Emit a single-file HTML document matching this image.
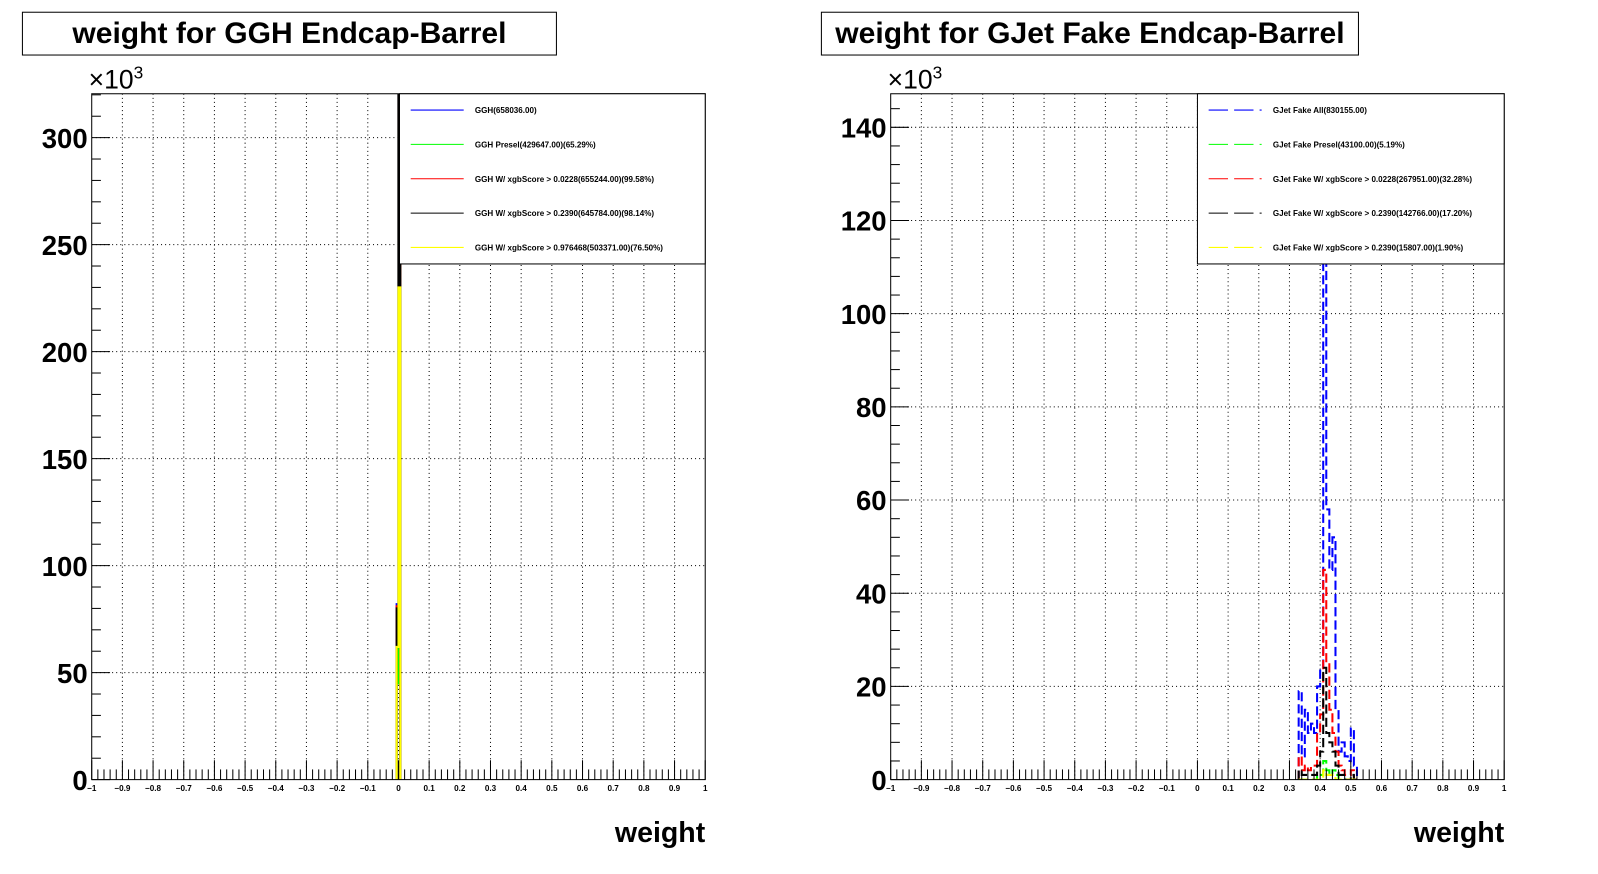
<!DOCTYPE html>
<html><head><meta charset="utf-8"><style>
html,body{margin:0;padding:0;background:#fff;overflow:hidden;}
svg{display:block;font-family:"Liberation Sans",Arial,sans-serif;}
</style></head><body>
<svg width="1598" height="874" xmlns="http://www.w3.org/2000/svg">
<rect x="0" y="0" width="1598" height="874" fill="#fff"/>
<g id="s" transform="scale(1.0191)"></g>
</svg>
<script>
// ---------- data ----------
const leftBinsX = [-0.006, 0.0];            // bin lower edges
const leftBlue  = [82, 575];
const leftGreen = [45, 420];
const leftRed   = [81, 570];
const leftBlack = [80, 560];
const leftYellow= [62, 230];
const leftLegend = ["GGH(658036.00)","GGH Presel(429647.00)(65.29%)","GGH W/ xgbScore > 0.0228(655244.00)(99.58%)","GGH W/ xgbScore > 0.2390(645784.00)(98.14%)","GGH W/ xgbScore > 0.976468(503371.00)(76.50%)"];

const rightBinsX = [0.33,0.34,0.35,0.36,0.37,0.38,0.39,0.40,0.41,0.42,0.43,0.44,0.45,0.46,0.47,0.48,0.49,0.50,0.51];
const rightBlue  = [19,5,15,10,12,10,20,24,160,58,45,52,15,6,8,5,4,11,3];
const rightRed   = [5,2,3,2,3,3,10,14,45,25,15,10,6,3,2,1,1,2,0];
const rightBlack = [2,1,1,1,1,1,3,6,24,10,8,6,3,1,1,0,0,1,0];
const rightGreen = [0,0,0,0,0,0,1,1,4,2,1,2,1,0,0,0,0,0,0];
const rightYellow= [0,0,0,0,0,0,0,0,2,1,1,1,0,0,0,0,0,0,0];
const rightLegend = ["GJet Fake All(830155.00)","GJet Fake Presel(43100.00)(5.19%)","GJet Fake W/ xgbScore > 0.0228(267951.00)(32.28%)","GJet Fake W/ xgbScore > 0.2390(142766.00)(17.20%)","GJet Fake W/ xgbScore > 0.2390(15807.00)(1.90%)"];

const xTicks = [-1,-0.9,-0.8,-0.7,-0.6,-0.5,-0.4,-0.3,-0.2,-0.1,0,0.1,0.2,0.3,0.4,0.5,0.6,0.7,0.8,0.9,1];
const leftYTicks = [0,50,100,150,200,250,300];
const rightYTicks = [0,20,40,60,80,100,120,140];

const colors = ["#0000ff","#00ff00","#ff0000","#000000","#ffff00"];
const NS="http://www.w3.org/2000/svg";
const svg=document.getElementById('s');
function mk(tag,attrs,parent){const e=document.createElementNS(NS,tag);for(const k in attrs)e.setAttribute(k,attrs[k]);(parent||svg).appendChild(e);return e;}

function drawPanel(p){
  const g=mk('g',{});
  
  
  const L=p.x0,R=p.x1,T=92,B=765;
  const xs=v=>L+(v+1)/2*(R-L);
  const ys=v=>B-(v/p.ymax)*(B-T);
  const tb=mk('rect',{x:p.tx,y:12,width:p.tw,height:42,fill:'#fff',stroke:'#000','stroke-width':1},g);
  
  
  const tt=mk('text',{x:p.tx+p.tw/2,y:42,'text-anchor':'middle','font-size':29.5,'font-weight':'bold'},g);
  tt.textContent=p.title;
  
  
  xTicks.forEach(t=>{if(t>-1&&t<1){const l=mk('line',{x1:xs(t),x2:xs(t),y1:T,y2:B,stroke:'#000','stroke-width':1,'stroke-dasharray':'1,3'},g);}});
  p.yticks.forEach(t=>{if(t>0){const l=mk('line',{x1:L,x2:R,y1:ys(t),y2:ys(t),stroke:'#000','stroke-width':1,'stroke-dasharray':'1,3'},g);}});
  const clip='c'+p.name;
  const cp=mk('clipPath',{id:clip},g);mk('rect',{x:L,y:T,width:R-L,height:B-T},cp);
  const hg=mk('g',{'clip-path':'url(#'+clip+')'},g);
  p.series.forEach((vals,si)=>{
    let d='M'+xs(p.bins[0])+','+B;
    vals.forEach((v,i)=>{const x0=xs(p.bins[i]),x1=xs(p.bins[i]+p.bw);d+=' L'+x0+','+ys(v)+' L'+x1+','+ys(v);});
    d+=' L'+xs(p.bins[p.bins.length-1]+p.bw)+','+B;
    const path=mk('path',{d:d,fill:'none',stroke:colors[si],'stroke-width':2,'stroke-dasharray':p.dash||'none'},hg);
    
    
  });
  const fr=mk('rect',{x:L,y:T,width:R-L,height:B-T,fill:'none',stroke:'#000','stroke-width':1},g);
  
  
  for(let i=0;i<=100;i++){const v=-1+i*0.02;const x=xs(v);const maj=i%5===0;
    mk('line',{x1:x,x2:x,y1:B,y2:B-(maj?19:10),stroke:'#000','stroke-width':1},g);}
  xTicks.forEach(t=>{const tx=mk('text',{x:xs(t),y:776,'text-anchor':'middle','font-size':8,'font-weight':'bold'},g);tx.textContent=(t<0?'\u2212':'')+String(Math.abs(t));});
  const step=p.yticks[1]-p.yticks[0];const minor=step/5;
  for(let v=0;v<=p.ymax;v+=minor){const y=ys(v);const maj=Math.abs(v/step-Math.round(v/step))<1e-6;
    mk('line',{x1:L,x2:L+(maj?18:9),y1:y,y2:y,stroke:'#000','stroke-width':1},g);}
  p.yticks.forEach(t=>{const tx=mk('text',{x:L-4,y:ys(t)+10,'text-anchor':'end','font-size':27,'font-weight':'bold'},g);tx.textContent=t;});
  const ex=mk('text',{x:L-3,y:87,'font-size':26},g);ex.innerHTML='\u00d710<tspan font-size="17" dy="-10">3</tspan>';
  
  
  const xt=mk('text',{x:R,y:826,'text-anchor':'end','font-size':28,'font-weight':'bold'},g);xt.textContent='weight';
  
  
  const lg=mk('g',{},g);
  
  
  mk('rect',{x:p.lx,y:T,width:R-p.lx,height:167,fill:'#fff',stroke:'#000','stroke-width':1},lg);
  p.legend.forEach((s,i)=>{const y=108+i*33.7;
    const e=mk('g',{},lg);
    
    
    mk('line',{x1:p.lx+11,x2:p.lx+63,y1:y,y2:y,stroke:colors[i],'stroke-width':1,'stroke-dasharray':p.dash?'19,6':'none'},e);
    const t=mk('text',{x:p.lx+74,y:y+3,'font-size':7.9,'font-weight':'bold'},e);t.textContent=s;});
}
drawPanel({name:'ggh-panel',x0:90,x1:692,ymax:320.5,yticks:leftYTicks,tx:22,tw:524,title:'weight for GGH Endcap-Barrel',
  bins:leftBinsX,bw:0.006,series:[leftBlue,leftGreen,leftRed,leftBlack,leftYellow],lx:392,legend:leftLegend});
drawPanel({name:'gjet-panel',x0:874,x1:1476,ymax:147.2,yticks:rightYTicks,tx:806,tw:527,title:'weight for GJet Fake Endcap-Barrel',
  bins:rightBinsX,bw:0.01,series:[rightBlue,rightGreen,rightRed,rightBlack,rightYellow],lx:1175,legend:rightLegend,dash:'9,4'});
</script>
</body></html>
